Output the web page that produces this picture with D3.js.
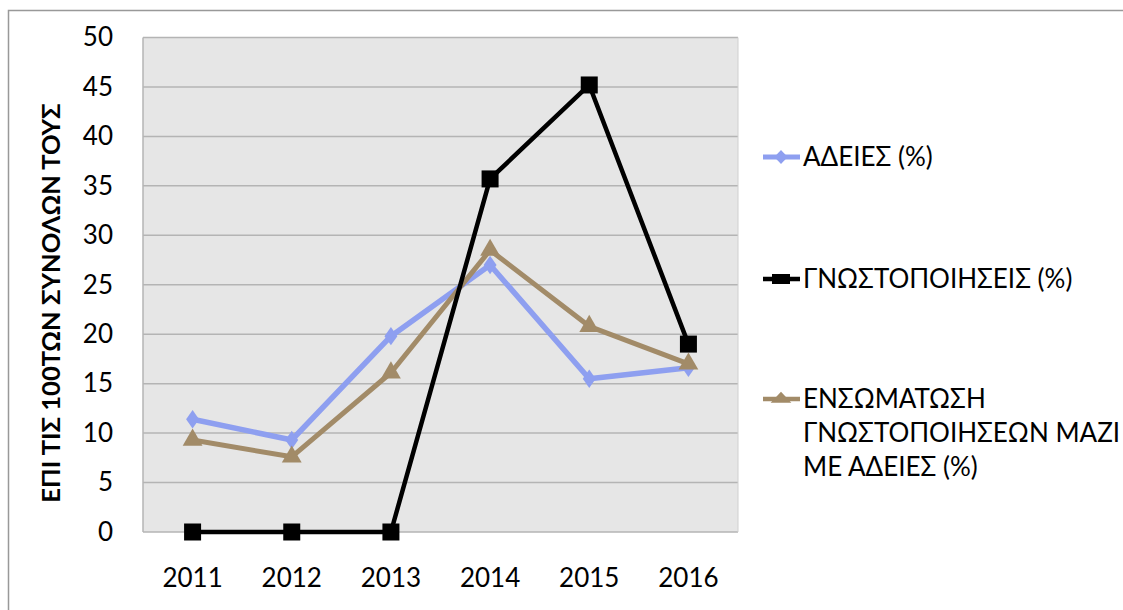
<!DOCTYPE html>
<html><head><meta charset="utf-8">
<script src="https://cdn.jsdelivr.net/npm/d3@7"></script>
<style>body{margin:0;background:#fff}svg{display:block}</style>
</head><body><svg id="c" width="1123" height="610"></svg>
<script>
const years = ["2011","2012","2013","2014","2015","2016"];
const adeies = [11.4, 9.3, 19.8, 27.0, 15.5, 16.6];
const gnost = [0, 0, 0, 35.7, 45.2, 19.0];
const ensom = [9.3, 7.6, 16.1, 28.5, 20.8, 17.0];
const yTicks = [0,5,10,15,20,25,30,35,40,45,50];
const seriesNames = ["ΑΔΕΙΕΣ (%)", "ΓΝΩΣΤΟΠΟΙΗΣΕΙΣ (%)", ["ΕΝΣΩΜΑΤΩΣΗ","ΓΝΩΣΤΟΠΟΙΗΣΕΩΝ ΜΑΖΙ","ΜΕ ΑΔΕΙΕΣ (%)"]];
const yTitle = "ΕΠΙ ΤΙΣ 100ΤΩΝ ΣΥΝΟΛΩΝ ΤΟΥΣ";

const font = "Lato, 'Open Sans', sans-serif";
const svg = d3.select("#c");
// frame
svg.append("path").attr("d","M8.5,610 L8.5,10.5 L1123,10.5").attr("fill","none").attr("stroke","#999").attr("stroke-width",1.5);

const L=143, R=738, T=37.5, B=532;
const x = d3.scaleBand().domain(years).range([L,R]);
const y = d3.scaleLinear().domain([0,50]).range([B,T]);

svg.append("rect").attr("x",L).attr("y",T).attr("width",R-L).attr("height",B-T).attr("fill","#e6e6e6");
svg.append("g").selectAll("line").data(yTicks).join("line")
  .attr("x1",L).attr("x2",R).attr("y1",d=>y(d)).attr("y2",d=>y(d))
  .attr("stroke","#b4b4b4").attr("stroke-width",1.5);
svg.append("line").attr("x1",L).attr("x2",L).attr("y1",T).attr("y2",B).attr("stroke","#b4b4b4").attr("stroke-width",1.5);
svg.append("line").attr("x1",R).attr("x2",R).attr("y1",T).attr("y2",B).attr("stroke","#d0d0d0").attr("stroke-width",1);

// axes
const ya = svg.append("g").attr("transform",`translate(${L},0)`).call(d3.axisLeft(y).tickValues(yTicks).tickSize(0).tickPadding(30));
ya.select(".domain").remove();
ya.selectAll("text").attr("font-family",font).attr("font-size",26).attr("fill","#000");
const xa = svg.append("g").attr("transform",`translate(0,${B})`).call(d3.axisBottom(x).tickSize(0).tickPadding(37));
xa.select(".domain").remove();
xa.selectAll("text").attr("font-family",font).attr("font-size",26).attr("fill","#000");

svg.append("text").attr("transform","translate(60,303) rotate(-90)").attr("text-anchor","middle")
  .attr("font-family",font).attr("font-weight","bold").attr("font-size",25.5).text(yTitle);

const cx = d => x(d) + x.bandwidth()/2;
const line = d3.line().x((d,i)=>cx(years[i])).y(d=>y(d));

const blue="#8e9ff0", tan="#a28b68";
function drawSeries(vals,color,width){
  svg.append("path").datum(vals).attr("d",line).attr("fill","none").attr("stroke",color).attr("stroke-width",width).attr("stroke-linejoin","round");
}
drawSeries(adeies,blue,5.5);
drawSeries(ensom,tan,5);
drawSeries(gnost,"#000",4.5);

// markers
svg.append("g").selectAll("path").data(adeies).join("path")
  .attr("d",d3.symbol(d3.symbolDiamond,120)).attr("fill",blue)
  .attr("transform",(d,i)=>`translate(${cx(years[i])},${y(d)}) scale(1.1,0.9)`);
svg.append("g").selectAll("path").data(ensom).join("path")
  .attr("d",d3.symbol(d3.symbolTriangle,170)).attr("fill",tan)
  .attr("transform",(d,i)=>`translate(${cx(years[i])},${y(d)})`);
svg.append("g").selectAll("rect").data(gnost).join("rect")
  .attr("x",(d,i)=>cx(years[i])-8.5).attr("y",d=>y(d)-8.5).attr("width",17).attr("height",17).attr("fill","#000");

// legend
const legY=[157,279,399];
const legColors=[blue,"#000",tan];
legY.forEach((ly,i)=>{
  const g=svg.append("g");
  g.append("line").attr("x1",763).attr("x2",800).attr("y1",ly).attr("y2",ly).attr("stroke",legColors[i]).attr("stroke-width",i==0?5:4.5);
  if(i==0) g.append("path").attr("d",d3.symbol(d3.symbolDiamond,90)).attr("fill",blue).attr("transform",`translate(781,${ly}) scale(1.3,0.8)`);
  if(i==1) g.append("rect").attr("x",772).attr("y",ly-5).attr("width",18).attr("height",10).attr("fill","#000");
  if(i==2) g.append("path").attr("d",d3.symbol(d3.symbolTriangle,110)).attr("fill",tan).attr("transform",`translate(781,${ly}) scale(1.3,0.8)`);
  const names = Array.isArray(seriesNames[i])?seriesNames[i]:[seriesNames[i]];
  const t=g.append("text").attr("font-family",font).attr("font-size",26).attr("fill","#000");
  names.forEach((n,j)=>t.append("tspan").attr("x",803).attr("y",ly+9+j*34).text(n));
});
</script></body></html>
